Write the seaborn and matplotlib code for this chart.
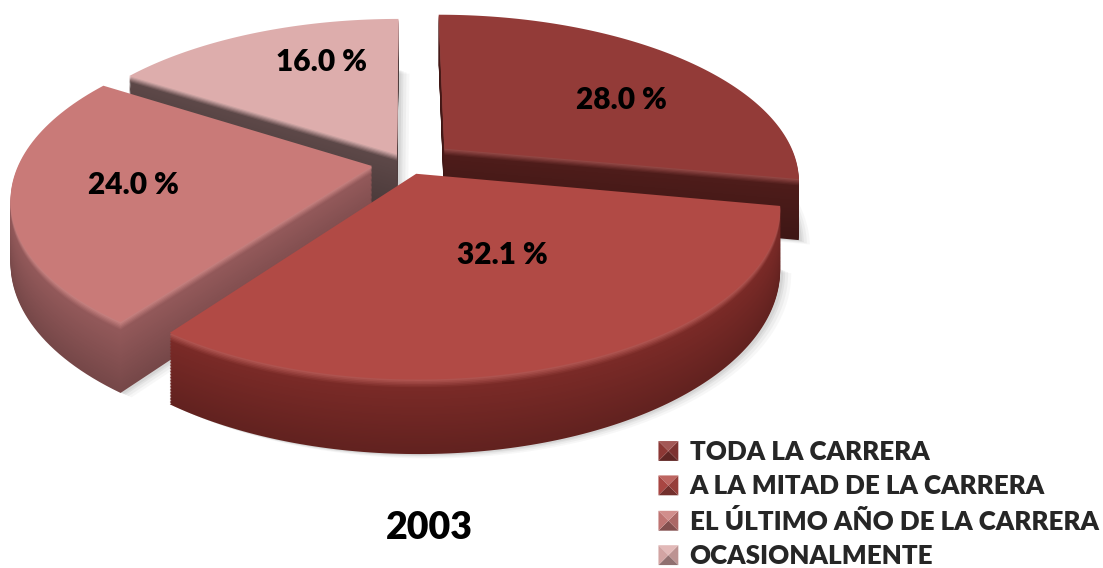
import numpy as np
import matplotlib
matplotlib.use("Agg")
import matplotlib.pyplot as plt
import seaborn as sns
from matplotlib.path import Path
from matplotlib.patches import Polygon
from matplotlib.transforms import Transform
from matplotlib.legend_handler import HandlerBase
from matplotlib.colors import to_rgb

# ---- data -------------------------------------------------------------
categories = [
    "TODA LA CARRERA",
    "A LA MITAD DE LA CARRERA",
    "EL ÚLTIMO AÑO DE LA CARRERA",
    "OCASIONALMENTE",
]
shares = [28.0, 32.1, 24.0, 16.0]
year_label = "2003"

# ---- styling ----------------------------------------------------------
top_colors = ["#933b38", "#b14a45", "#c97a78", "#ddadac"]
side_colors = ["#4e1c1a", "#7a2a27", "#93595a", "#5d4848"]
explode = [0.14, 0.07, 0.10, 0.06]
depth_rank = [1, 3, 2, 0]          # back-to-front drawing order of the slices
label_radius = [0.635, 0.494, 0.668, 0.69]
label_turn = [8.8, -4.6, 1.2, 8.0]  # degrees, relative to the slice mid-angle

W, Hpx = 1103, 568
geo = dict(cx=407.0, cy=163.0, rx=353.0, ry=163.4, persp=0.184)
thickness = 60.0
n_layers = 48


def flatten(path, n=32):
    """Turn a Bezier path into a dense polyline."""
    out = []
    for seg, code in path.iter_bezier():
        if code == Path.MOVETO:
            out.append(seg.control_points[:1])
        else:
            m = 2 if seg.degree <= 1 else n
            out.append(seg(np.linspace(0, 1, m))[1:])
    return np.concatenate(out)


class TiltedDisc(Transform):
    """Projects the unit pie plane onto a tilted disc seen in perspective."""
    input_dims = output_dims = 2
    is_separable = False
    has_inverse = False

    def __init__(self, cx, cy, rx, ry, persp, drop=0.0, dx=0.0, dy=0.0):
        super().__init__()
        self.cx, self.cy, self.rx, self.ry = cx, cy, rx, ry
        self.persp, self.drop, self.dx, self.dy = persp, drop, dx, dy

    def transform_non_affine(self, values):
        xy = np.asarray(values, float).reshape(-1, 2)
        u, v = xy[:, 0], xy[:, 1]
        w = 1.0 + self.persp * v
        X = self.cx + self.rx * u / w + self.dx
        Y = self.cy - (self.ry * v - self.drop) / w + self.dy
        return np.column_stack([X, Y])

    def transform_path_non_affine(self, path):
        return Path(self.transform_non_affine(flatten(path)))


def mix(c1, c2, t):
    a, b = np.array(to_rgb(c1)), np.array(to_rgb(c2))
    return tuple(a + (b - a) * t)


class BevelSquare(HandlerBase):
    """Legend key drawn as a small bevelled square."""

    def create_artists(self, legend, orig_handle, xdescent, ydescent,
                       width, height, fontsize, trans):
        base = orig_handle.get_facecolor()[:3]
        s = min(width, height)
        x0, y0 = -xdescent + (width - s) / 2, -ydescent + (height - s) / 2
        c = (x0 + s / 2, y0 + s / 2)
        corners = [(x0, y0), (x0 + s, y0), (x0 + s, y0 + s), (x0, y0 + s)]
        shades = [mix(base, "black", 0.35), mix(base, "black", 0.15),
                  mix(base, "white", 0.15), mix(base, "black", 0.05)]
        arts = []
        for k in range(4):
            tri = [corners[k], corners[(k + 1) % 4], c]
            p = Polygon(tri, closed=True, facecolor=shades[k], edgecolor="none",
                        transform=trans)
            arts.append(p)
        return arts


sns.set_theme(style="white")
plt.rcParams["font.family"] = ["Lato", "DejaVu Sans"]

fig = plt.figure(figsize=(W / 100, Hpx / 100), dpi=100)
ax = fig.add_axes([0, 0, 1, 1])


def pie_layer(colors):
    wedges, _ = ax.pie(shares, colors=colors, explode=explode, startangle=90,
                       counterclock=False, wedgeprops=dict(linewidth=0))
    return wedges


# soft drop shadow under each slice
for off, alpha in [(11, 0.05), (8, 0.07), (5, 0.09), (3, 0.10)]:
    for i, w in enumerate(pie_layer(["#707070"] * 4)):
        w.set_transform(TiltedDisc(**geo, drop=thickness, dx=off, dy=off * 0.4) + ax.transData)
        w.set_alpha(alpha)
        w.set_zorder(depth_rank[i] * 10 + 0.1)

# extruded side walls, stacked from the bottom up
for j in range(n_layers, 0, -1):
    f = j / n_layers
    cols = []
    for i in range(len(shares)):
        rim = mix(top_colors[i], "white", 0.10)
        if f < 0.12:
            cols.append(mix(rim, side_colors[i], f / 0.12))
        else:
            cols.append(mix(side_colors[i], "black", 0.2 * (f - 0.12) / 0.88))
    for i, w in enumerate(pie_layer(cols)):
        w.set_transform(TiltedDisc(**geo, drop=thickness * f) + ax.transData)
        w.set_zorder(depth_rank[i] * 10 + 1 + (1 - f))

# top faces
top_wedges = pie_layer(top_colors)
for i, w in enumerate(top_wedges):
    w.set_transform(TiltedDisc(**geo) + ax.transData)
    w.set_zorder(depth_rank[i] * 10 + 5)

# percentage labels on the top faces
proj = TiltedDisc(**geo)
total = sum(shares)
start = 0.0
for i, s in enumerate(shares):
    mid = np.deg2rad(360.0 * (start + s / 2) / total)
    ang = mid + np.deg2rad(label_turn[i])
    u = label_radius[i] * np.sin(ang) + explode[i] * np.sin(mid)
    v = label_radius[i] * np.cos(ang) + explode[i] * np.cos(mid)
    X, Y = proj.transform_non_affine([[u, v]])[0]
    ax.text(X, Y, f"{s:.1f} %", ha="center", va="center", fontsize=21.5,
            fontweight="heavy", color="black", zorder=100)
    start += s

ax.set_aspect("auto")
ax.set_xlim(0, W)
ax.set_ylim(Hpx, 0)
ax.axis("off")

ax.text(429, 528, year_label, ha="center", va="center", fontsize=27,
        fontweight="heavy", color="black")

leg = ax.legend(top_wedges, categories, loc="upper left",
                bbox_to_anchor=(658 / W, 1 - 440 / Hpx), frameon=False,
                prop=dict(size=18.7, weight="heavy"), handlelength=0.8,
                handleheight=0.8, handletextpad=0.42, labelspacing=0.40,
                borderaxespad=0, borderpad=0,
                handler_map={type(top_wedges[0]): BevelSquare()})
leg.set_zorder(200)

fig.savefig("out.png", dpi=100, facecolor="white")
